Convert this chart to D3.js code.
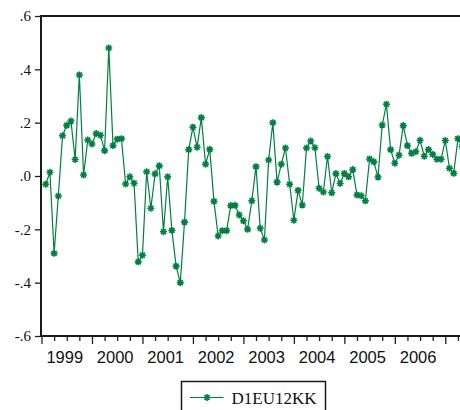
<!DOCTYPE html>
<html>
<head>
<meta charset="utf-8">
<script src="https://cdn.jsdelivr.net/npm/d3@7"></script>
<style>
  body { margin: 0; background: #fff; }
  svg { display: block; }
</style>
</head>
<body>
<svg id="chart" width="460" height="410"></svg>
<script>
// series D1EU12KK, monthly, first observation 1999M02
const seriesName = "D1EU12KK";
const firstYear = 1999, firstMonth = 2;
const values = [
  -0.031, 0.014, -0.290, -0.075, 0.151, 0.190, 0.206, 0.062, 0.379, 0.004, 0.135,
  0.120, 0.159, 0.153, 0.095, 0.480, 0.114, 0.138, 0.140, -0.030, -0.003, -0.027,
  -0.322, -0.297, 0.016, -0.121, 0.008, 0.038, -0.209, -0.003, -0.204, -0.338,
  -0.400, -0.173, 0.099, 0.183, 0.108, 0.219, 0.044, 0.100, -0.095, -0.225,
  -0.205, -0.205, -0.111, -0.110, -0.146, -0.168, -0.200, -0.093, 0.035,
  -0.196, -0.240, 0.060, 0.200, -0.023, 0.044, 0.105, -0.031, -0.166, -0.054,
  -0.109, 0.105, 0.131, 0.106, -0.046, -0.060, 0.073, -0.063, 0.009, -0.028,
  0.009, -0.003, 0.024, -0.071, -0.074, -0.093, 0.064, 0.053, -0.004, 0.191,
  0.269, 0.099, 0.048, 0.078, 0.189, 0.114, 0.085, 0.091, 0.134, 0.074, 0.099,
  0.081, 0.063, 0.063, 0.133, 0.029, 0.010, 0.140, 0.110
];
const yTicks = [0.6, 0.4, 0.2, 0.0, -0.2, -0.4, -0.6];
const yTickLabels = [".6", ".4", ".2", ".0", "-.2", "-.4", "-.6"];
const years = [1999, 2000, 2001, 2002, 2003, 2004, 2005, 2006];

const green = "#008040";
const data = values.map((v, i) => ({ m: (firstYear - years[0]) * 12 + firstMonth - 1 + i, v: v }));

const svg = d3.select("#chart");

// months since Jan 1999 -> pixels
const x = d3.scaleLinear().domain([0, 96]).range([41.5, 445.3]);
const y = d3.scaleLinear().domain([-0.6, 0.6]).range([336, 16]);

// y axis
const yAxis = svg.append("g")
    .attr("transform", "translate(41,0)")
    .call(d3.axisLeft(y)
        .tickValues(yTicks)
        .tickSize(6)
        .tickPadding(4)
        .tickFormat((d, i) => yTickLabels[i]));
yAxis.select(".domain").remove();
yAxis.selectAll("line").attr("stroke", "#222").attr("stroke-width", 1.3);
yAxis.selectAll("text")
    .attr("font-family", "'Liberation Serif', 'Times New Roman', serif")
    .attr("font-size", 15)
    .attr("fill", "#111");

// x axis: quarterly minor ticks, yearly major ticks
const quarters = d3.range(0, 103, 3).filter(m => m % 12 !== 0);
const yearStarts = d3.range(0, 108, 12);

const xMinor = svg.append("g")
    .attr("transform", "translate(0,336)")
    .call(d3.axisBottom(x).tickValues(quarters).tickSize(5).tickFormat(""));
xMinor.select(".domain").remove();

const xMajor = svg.append("g")
    .attr("transform", "translate(0,336)")
    .call(d3.axisBottom(x).tickValues(yearStarts).tickSize(8).tickFormat(""));
xMajor.select(".domain").remove();
svg.selectAll(".tick line").attr("stroke", "#222").attr("stroke-width", 1.3);

svg.append("g")
    .selectAll("text")
    .data(years)
    .join("text")
    .attr("x", d => x((d - years[0]) * 12 + 6) - 2)
    .attr("y", 362.5)
    .attr("text-anchor", "middle")
    .attr("font-family", "'Liberation Sans', Arial, sans-serif")
    .attr("font-size", 16.5)
    .attr("fill", "#111")
    .text(d => d);

// frame
svg.append("rect")
    .attr("x", 41)
    .attr("y", 16)
    .attr("width", 440)
    .attr("height", 320)
    .attr("fill", "none")
    .attr("stroke", "#1a1a1a")
    .attr("stroke-width", 2);

// eight-armed star marker
const star = {
    draw(context, size) {
        const r = Math.sqrt(size) / 2;
        const d = r * 0.72;
        context.moveTo(-r, 0); context.lineTo(r, 0);
        context.moveTo(0, -r); context.lineTo(0, r);
        context.moveTo(-d, -d); context.lineTo(d, d);
        context.moveTo(-d, d); context.lineTo(d, -d);
    }
};

const line = d3.line()
    .x(d => x(d.m))
    .y(d => y(d.v));

const plot = svg.append("g");

plot.append("path")
    .datum(data)
    .attr("d", line)
    .attr("fill", "none")
    .attr("stroke", green)
    .attr("stroke-width", 1.2);

plot.selectAll(".pt")
    .data(data)
    .join("path")
    .attr("class", "pt")
    .attr("transform", d => `translate(${x(d.m)},${y(d.v)})`)
    .attr("d", d3.symbol().type(star).size(49))
    .attr("fill", "none")
    .attr("stroke", green)
    .attr("stroke-width", 1.6);

// legend
const legend = svg.append("g");
legend.append("rect")
    .attr("x", 181.5)
    .attr("y", 381.5)
    .attr("width", 144)
    .attr("height", 40)
    .attr("fill", "none")
    .attr("stroke", "#1a1a1a")
    .attr("stroke-width", 1.5);
legend.append("line")
    .attr("x1", 190).attr("x2", 223.5)
    .attr("y1", 397.5).attr("y2", 397.5)
    .attr("stroke", green)
    .attr("stroke-width", 1.2);
legend.append("path")
    .attr("transform", "translate(207,397.5)")
    .attr("d", d3.symbol().type(star).size(49))
    .attr("fill", "none")
    .attr("stroke", green)
    .attr("stroke-width", 1.6);
legend.append("text")
    .attr("x", 231.5)
    .attr("y", 403.5)
    .attr("font-family", "'Liberation Serif', 'Times New Roman', serif")
    .attr("font-size", 17)
    .attr("fill", "#111")
    .text(seriesName);
</script>
</body>
</html>
